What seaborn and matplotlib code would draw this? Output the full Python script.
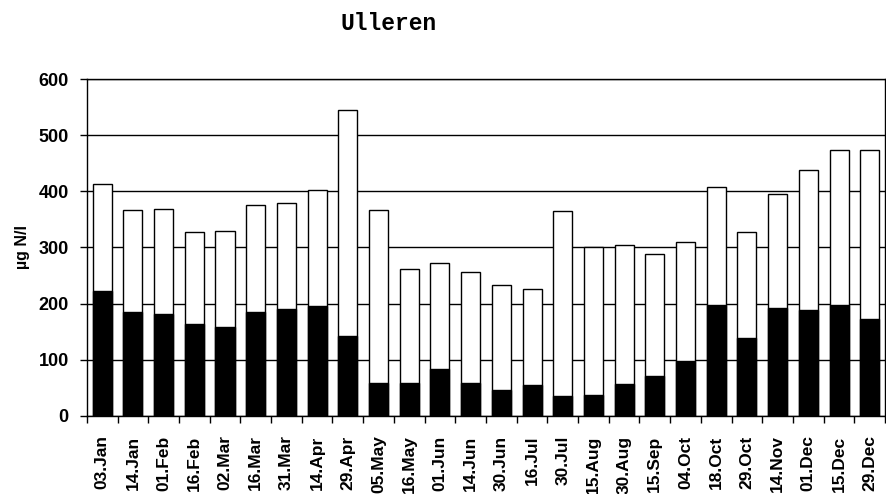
import numpy as np
import pandas as pd
import seaborn as sns
import matplotlib.pyplot as plt

# sampling dates
dates = ["03.Jan", "14.Jan", "01.Feb", "16.Feb", "02.Mar", "16.Mar", "31.Mar",
         "14.Apr", "29.Apr", "05.May", "16.May", "01.Jun", "14.Jun", "30.Jun",
         "16.Jul", "30.Jul", "15.Aug", "30.Aug", "15.Sep", "04.Oct", "18.Oct",
         "29.Oct", "14.Nov", "01.Dec", "15.Dec", "29.Dec"]

# total height of each bar (ug N/l)
total_n = [413, 367, 368, 327, 330, 376, 380, 402, 545, 366, 262, 273, 257,
           234, 226, 365, 301, 305, 289, 309, 407, 328, 395, 438, 474, 474]

# black (lower) part
black_part = [223, 185, 181, 164, 159, 185, 190, 196, 142, 59, 58, 83, 59,
              47, 55, 36, 38, 57, 71, 97, 198, 139, 193, 188, 197, 173]

df = pd.DataFrame({"date": dates, "total": total_n, "lower": black_part})

sns.set_style("white")
plt.rcParams['font.family'] = ['Liberation Sans', 'DejaVu Sans']
plt.rcParams['text.color'] = 'black'
plt.rcParams['axes.labelcolor'] = 'black'
plt.rcParams['xtick.color'] = 'black'
plt.rcParams['ytick.color'] = 'black'

fig = plt.figure(figsize=(8.86, 4.94), dpi=100)
ax = fig.add_axes([0.098, 0.158, 0.901, 0.682])

sns.barplot(data=df, x="date", y="total", color="white", edgecolor="black",
            linewidth=1.0, width=0.62, saturation=1, ax=ax, zorder=2)
sns.barplot(data=df, x="date", y="lower", color="black", edgecolor="black",
            linewidth=1.0, width=0.62, saturation=1, ax=ax, zorder=3)

ax.set_ylim(0, 600)
ax.set_xlim(-0.5, len(dates) - 0.5)
ax.set_yticks(range(0, 601, 100))
ax.yaxis.grid(True, color="black", linewidth=1.0, zorder=0)
ax.set_axisbelow(True)

for s in ax.spines.values():
    s.set_color("black")
    s.set_linewidth(1.0)

# tick marks on category boundaries, labels centred
ax.set_xticks(np.arange(len(dates)))
ax.set_xticklabels(dates, rotation=90, fontsize=12.5, fontweight="bold")
ax.set_xticks(np.arange(-0.5, len(dates), 1.0), minor=True)
ax.tick_params(axis="x", which="major", length=0, pad=14)
ax.tick_params(axis="x", which="minor", length=5, width=1, color="black",
               direction="out", bottom=True)
ax.tick_params(axis="y", length=5, width=1, color="black", direction="out",
               left=True, pad=8, labelsize=13)
for lab in ax.get_yticklabels():
    lab.set_fontweight("bold")

ax.set_xlabel("")
ax.set_ylabel("µg N/l", fontsize=11.5, fontweight="bold", labelpad=6)

fig.text(0.384, 0.953, "Ulleren", fontsize=16.5, fontweight="bold",
         family=["Liberation Mono", "DejaVu Sans Mono"], ha="left", va="center")

fig.savefig("out.png", dpi=100)
